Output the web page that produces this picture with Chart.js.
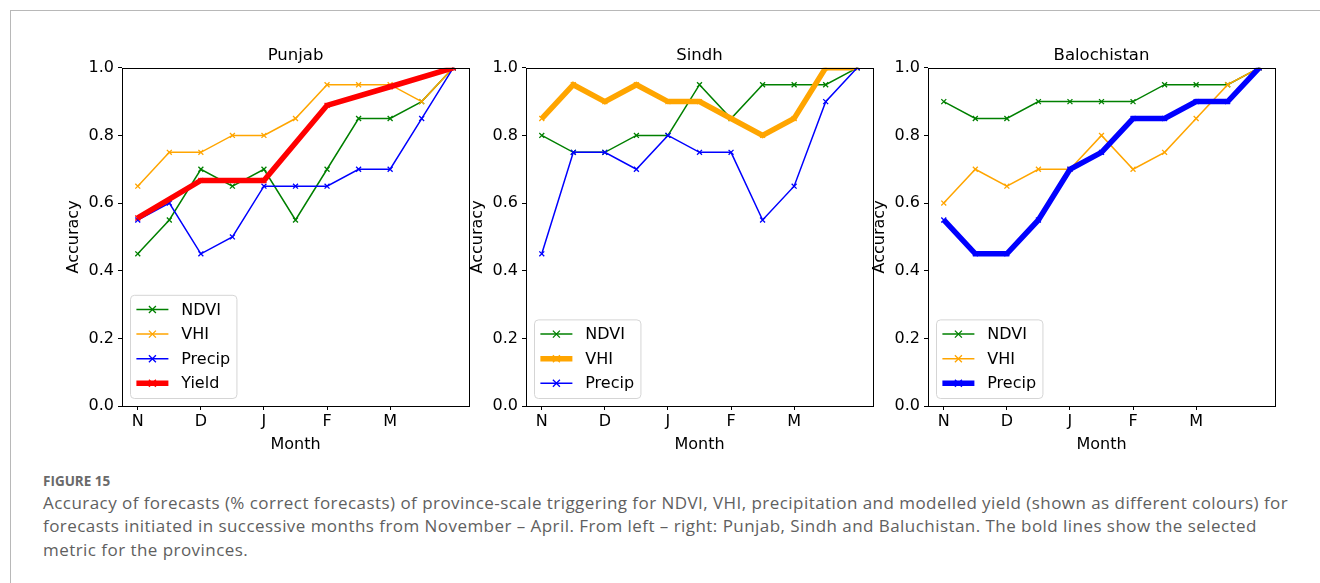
<!DOCTYPE html>
<html>
<head>
<meta charset="utf-8">
<script src="https://cdn.jsdelivr.net/npm/chart.js@4.4.1/dist/chart.umd.min.js"></script>
<style>
    html, body { margin: 0; padding: 0; background: #fff; }
    body { width: 1320px; height: 583px; position: relative; overflow: hidden; }
    #frame {
        position: absolute; left: 10px; top: 10px; right: 0; bottom: 0;
        border-top: 1px solid #b8b8b8; border-left: 1px solid #b8b8b8;
    }
    .panel { position: absolute; top: 40px; width: 427px; height: 420px; }
    #caption {
        position: absolute; left: 43px; top: 471px; width: 1275px;
        font-family: "Open Sans", "Noto Sans", sans-serif; color: #5f5f5f;
    }
    #caption .fig { font-size: 13.5px; font-weight: 700; color: #6a6a6a; line-height: 20px; }
    #caption .txt { font-size: 17px; letter-spacing: 0.45px; line-height: 23.3px; white-space: nowrap; }
</style>
</head>
<body>
<div id="frame"></div>
<div class="panel" style="left:50px"><canvas id="punjab"></canvas></div>
<div class="panel" style="left:454px"><canvas id="sindh"></canvas></div>
<div class="panel" style="left:856px"><canvas id="balochistan"></canvas></div>
<div id="caption">
    <div class="fig">FIGURE 15</div>
    <div class="txt">Accuracy of forecasts (% correct forecasts) of province-scale triggering for NDVI, VHI, precipitation and modelled yield (shown as different colours) for<br>forecasts initiated in successive months from November – April. From left – right: Punjab, Sindh and Baluchistan. The bold lines show the selected<br>metric for the provinces.</div>
</div>
<script>
// forecast start steps (half-month), only some carry a label
const steps = ["N", "", "D", "", "J", "", "F", "", "M", "", ""];
const yTicks = [0, 0.2, 0.4, 0.6, 0.8, 1.0];

const punjabNdvi   = [0.45, 0.55, 0.70, 0.65, 0.70, 0.55, 0.70, 0.85, 0.85, 0.90, 1.00];
const punjabVhi    = [0.65, 0.75, 0.75, 0.80, 0.80, 0.85, 0.95, 0.95, 0.95, 0.90, 1.00];
const punjabPrecip = [0.55, 0.60, 0.45, 0.50, 0.65, 0.65, 0.65, 0.70, 0.70, 0.85, 1.00];
const punjabYield  = [0.556, null, 0.667, null, 0.667, null, 0.889, null, 0.944, null, 1.00];

const sindhNdvi    = [0.80, 0.75, 0.75, 0.80, 0.80, 0.95, 0.85, 0.95, 0.95, 0.95, 1.00];
const sindhVhi     = [0.85, 0.95, 0.90, 0.95, 0.90, 0.90, 0.85, 0.80, 0.85, 1.00, 1.00];
const sindhPrecip  = [0.45, 0.75, 0.75, 0.70, 0.80, 0.75, 0.75, 0.55, 0.65, 0.90, 1.00];

const balNdvi      = [0.90, 0.85, 0.85, 0.90, 0.90, 0.90, 0.90, 0.95, 0.95, 0.95, 1.00];
const balVhi       = [0.60, 0.70, 0.65, 0.70, 0.70, 0.80, 0.70, 0.75, 0.85, 0.95, 1.00];
const balPrecip    = [0.55, 0.45, 0.45, 0.55, 0.70, 0.75, 0.85, 0.85, 0.90, 0.90, 1.00];

const FONT = "'DejaVu Sans', sans-serif";
const GREEN = "#008000", ORANGE = "#ffa500", BLUE = "#0000ff", RED = "#ff0000";

// full box round the axes like matplotlib
const boxPlugin = {
    id: "box",
    afterDraw(chart) {
        const a = chart.chartArea, ctx = chart.ctx;
        ctx.save();
        ctx.strokeStyle = "#000";
        ctx.lineWidth = 1;
        ctx.strokeRect(Math.round(a.left) + 0.5, Math.round(a.top) + 0.5,
            Math.round(a.right - a.left), Math.round(a.bottom - a.top));
        ctx.restore();
    }
};

// legend in lower left corner of the plot
const cornerLegend = {
    id: "cornerLegend",
    afterDraw(chart) {
        const a = chart.chartArea, ctx = chart.ctx;
        const sets = chart.data.datasets;
        const fs = 16, pad = 6.4, handle = 32, gap = 12.8, rowH = 16.6, spacing = 8;
        ctx.save();
        ctx.font = fs + "px " + FONT;
        let tw = 0;
        sets.forEach(d => { tw = Math.max(tw, ctx.measureText(d.label).width); });
        const w = pad + handle + gap + tw + pad;
        const h = pad * 2 + sets.length * rowH + (sets.length - 1) * spacing;
        const x = a.left + 8, y = a.bottom - 8 - h;
        ctx.beginPath();
        ctx.roundRect(x + 0.5, y + 0.5, w, h, 4);
        ctx.fillStyle = "rgba(255,255,255,0.8)";
        ctx.fill();
        ctx.strokeStyle = "#d5d5d5";
        ctx.lineWidth = 1;
        ctx.stroke();
        sets.forEach((d, i) => {
            const cy = y + pad + i * (rowH + spacing) + rowH / 2;
            const x0 = x + pad, x1 = x0 + handle;
            ctx.strokeStyle = d.borderColor;
            ctx.lineWidth = d.borderWidth;
            ctx.beginPath();
            ctx.moveTo(x0, cy);
            ctx.lineTo(x1, cy);
            ctx.stroke();
            const cx = (x0 + x1) / 2, r = 3.5;
            ctx.lineWidth = 1.3;
            ctx.beginPath();
            ctx.moveTo(cx - r, cy - r); ctx.lineTo(cx + r, cy + r);
            ctx.moveTo(cx - r, cy + r); ctx.lineTo(cx + r, cy - r);
            ctx.stroke();
            ctx.fillStyle = "#000";
            ctx.textBaseline = "middle";
            ctx.fillText(d.label, x1 + gap, cy + 1);
        });
        ctx.restore();
    }
};

function makePanel(id, title, series) {
    const n = series.length;
    const datasets = series.map((s, i) => ({
        label: s.label,
        data: s.data,
        borderColor: s.color,
        backgroundColor: s.color,
        borderWidth: s.bold ? 5.5 : 1.5,
        pointStyle: "crossRot",
        pointRadius: 3.5,
        pointBorderWidth: 1.3,
        pointBorderColor: s.color,
        tension: 0,
        spanGaps: true,
        order: n - i
    }));
    return new Chart(document.getElementById(id), {
        type: "line",
        data: { labels: steps, datasets: datasets },
        options: {
            responsive: true,
            maintainAspectRatio: false,
            animation: false,
            events: [],
            layout: { padding: { left: 0, right: 8, top: 0, bottom: 0 } },
            plugins: {
                legend: { display: false },
                tooltip: { enabled: false },
                title: {
                    display: true, text: title, color: "#000", fullSize: false,
                    font: { family: FONT, size: 16.5, weight: "normal" },
                    padding: { top: 6, bottom: 2 }
                }
            },
            scales: {
                x: {
                    type: "category",
                    offset: true,
                    afterBuildTicks: sc => { sc.ticks = sc.ticks.filter(t => steps[t.value] !== ""); },
                    afterFit: sc => { sc.height = 54; },
                    grid: { display: true, drawOnChartArea: false, offset: false, tickLength: 4, tickColor: "#000", tickWidth: 1 },
                    border: { display: false },
                    ticks: {
                        autoSkip: false, maxRotation: 0, padding: 2, color: "#000",
                        font: { family: FONT, size: 16 },
                        callback: (v) => steps[v]
                    },
                    title: {
                        display: true, text: "Month", color: "#000",
                        font: { family: FONT, size: 16 },
                        padding: { top: 0, bottom: 6 }
                    }
                },
                y: {
                    min: 0, max: 1,
                    afterBuildTicks: sc => { sc.ticks = yTicks.map(v => ({ value: v })); },
                    afterFit: sc => { sc.width = 72; },
                    grid: { display: true, drawOnChartArea: false, tickLength: 4, tickColor: "#000", tickWidth: 1 },
                    border: { display: false },
                    ticks: {
                        padding: 4, color: "#000",
                        font: { family: FONT, size: 16 },
                        callback: v => v.toFixed(1)
                    },
                    title: {
                        display: true, text: "Accuracy", color: "#000",
                        font: { family: FONT, size: 16 },
                        padding: { top: 14, bottom: 0 }
                    }
                }
            }
        },
        plugins: [boxPlugin, cornerLegend]
    });
}

makePanel("punjab", "Punjab", [
    { label: "NDVI", data: punjabNdvi, color: GREEN },
    { label: "VHI", data: punjabVhi, color: ORANGE },
    { label: "Precip", data: punjabPrecip, color: BLUE },
    { label: "Yield", data: punjabYield, color: RED, bold: true }
]);
makePanel("sindh", "Sindh", [
    { label: "NDVI", data: sindhNdvi, color: GREEN },
    { label: "VHI", data: sindhVhi, color: ORANGE, bold: true },
    { label: "Precip", data: sindhPrecip, color: BLUE }
]);
makePanel("balochistan", "Balochistan", [
    { label: "NDVI", data: balNdvi, color: GREEN },
    { label: "VHI", data: balVhi, color: ORANGE },
    { label: "Precip", data: balPrecip, color: BLUE, bold: true }
]);
</script>
</body>
</html>
